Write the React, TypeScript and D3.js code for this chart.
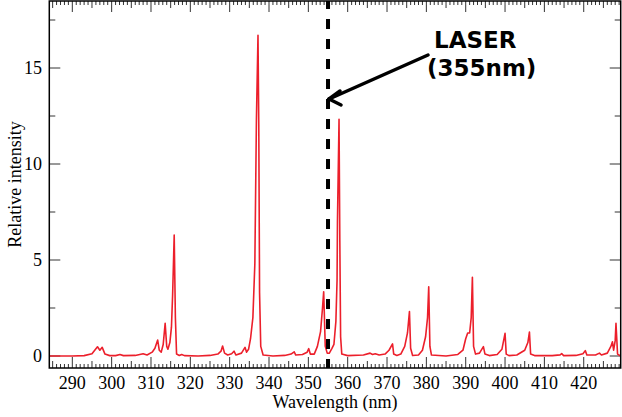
import * as React from 'react';
import * as d3 from 'd3';

// spectrum: wavelength (nm) and relative intensity
const wavelength = [
  284.2, 290, 293, 295, 296.4, 297.0, 297.6, 298.3, 299.5, 301, 302.1, 303, 306, 308.0, 309,
  310.3, 311, 311.7, 312.1, 312.6, 313.1, 313.6, 314.0, 314.3, 314.8, 315.2, 315.5, 315.9, 316.2,
  316.5, 317.2, 317.8, 318.5, 322, 325, 327, 327.8, 328.2, 328.7, 329.5, 330.5, 331.1, 331.6, 333,
  333.9, 334.3, 334.8, 335.3, 335.9, 336.4, 336.8, 337.2, 337.4, 337.6, 337.9, 338.5, 341, 344,
  345.6, 346.4, 346.8, 348.5, 349.7, 350.1, 350.5, 351.5, 352.3, 353.1, 353.6, 353.9, 354.3, 354.8,
  355.3, 356.0, 356.5, 357.0, 357.3, 357.4, 357.8, 358.0, 358.2, 358.5, 360, 364, 365.7, 366.3,
  367, 368, 369.5, 370.5, 371.4, 371.7, 372.5, 373.5, 374.5, 375.2, 375.7, 376.0, 376.5, 378, 379,
  379.8, 380.3, 380.6, 380.9, 381.3, 385, 388, 389.3, 390.0, 390.5, 391.0, 391.4, 391.7, 392.0,
  392.5, 393.5, 394.5, 394.9, 396, 398, 399.2, 400.0, 400.3, 401, 403, 405, 405.8, 406.2, 406.5,
  407.5, 412, 414.0, 414.4, 414.9, 418, 419.8, 420.4, 420.8, 423, 424, 424.5, 426, 426.9, 427.3,
  427.6, 428.0, 428.2, 428.6, 429.4,
];
const intensity = [
  0.0, 0.0, 0.02, 0.12, 0.48, 0.3, 0.45, 0.1, 0.02, 0.02, 0.08, 0.02, 0.03, 0.12, 0.05,
  0.2, 0.4, 0.83, 0.3, 0.2, 0.6, 1.7, 0.5, 0.35, 0.7, 1.5, 3.2, 6.3, 2.0,
  0.1, 0.03, 0.08, 0.02, 0.0, 0.03, 0.1, 0.25, 0.52, 0.15, 0.05, 0.12, 0.25, 0.05, 0.15,
  0.45, 0.2, 0.35, 0.9, 2.0, 4.8, 12.3, 16.7, 12.0, 3.3, 0.5, 0.05, 0.0, 0.03,
  0.1, 0.22, 0.05, 0.08, 0.2, 0.38, 0.1, 0.1, 0.5, 1.27, 2.5, 3.35, 0.5, 0.15,
  0.14, 0.4, 0.6, 1.8, 3.96, 7.0, 12.33, 6.0, 1.0, 0.1, 0.02, 0.05, 0.15, 0.08,
  0.12, 0.05, 0.1, 0.3, 0.63, 0.1, 0.03, 0.1, 0.5, 1.2, 2.31, 0.4, 0.03, 0.05, 0.3,
  1.0, 2.0, 3.61, 0.5, 0.05, 0.0, 0.08, 0.3, 0.9, 1.2, 1.2, 2.0, 4.1, 0.5,
  0.1, 0.15, 0.49, 0.1, 0.02, 0.08, 0.35, 1.18, 0.1, 0.02, 0.05, 0.3, 0.7, 1.25, 0.1,
  0.02, 0.02, 0.06, 0.12, 0.02, 0.03, 0.12, 0.28, 0.05, 0.05, 0.15, 0.05, 0.15, 0.5, 0.74,
  0.3, 0.8, 1.7, 0.1, 0.0,
];

const xTickLabels = [290, 300, 310, 320, 330, 340, 350, 360, 370, 380, 390, 400, 410, 420];
const yTickLabels = [0, 5, 10, 15];
const yMinorTicks = [2.5, 7.5, 12.5, 17.5];
const laserLine = 355;

const width = 622;
const height = 417;
const left = 49.3;
const right = 620.7;
const top = 1;
const bottom = 368;

const App = () => {
  const x = d3.scaleLinear().domain([284.15, 429.4]).range([left, right]);
  const y = d3.scaleLinear().domain([-0.625, 18.49]).range([bottom, top]);

  const points = wavelength.map((w, i) => [w, intensity[i]] as [number, number]);
  const line = d3
    .line<[number, number]>()
    .x((d) => x(d[0]))
    .y((d) => y(d[1]));

  const xMinor = d3.range(285, 430, 1);
  const serif = '"Liberation Serif", "Times New Roman", serif';
  const lx = x(laserLine);

  return (
    <svg
      width={width}
      height={height}
      style={{ position: 'absolute', left: 0, top: 0, background: '#fff' }}>
      <defs>
        <clipPath id='plot'>
          <rect x={left} y={top} width={right - left} height={bottom - top} />
        </clipPath>
      </defs>

      {/* x ticks, bottom (up) and top (down) */}
      {xMinor.map((t) => {
        const len = t % 10 === 0 ? 11 : t % 5 === 0 ? 7 : 4;
        return (
          <g key={t} stroke='#333' strokeWidth={1}>
            <line x1={x(t)} x2={x(t)} y1={bottom} y2={bottom - len} />
            <line x1={x(t)} x2={x(t)} y1={top} y2={top + len} />
          </g>
        );
      })}

      {/* y ticks, left and right */}
      {yTickLabels.map((t) => (
        <g key={t} stroke='#777' strokeWidth={1.5}>
          <line x1={left} x2={left + 11} y1={y(t)} y2={y(t)} />
          <line x1={right} x2={right - 11} y1={y(t)} y2={y(t)} />
        </g>
      ))}
      {yMinorTicks.map((t) => (
        <g key={t} stroke='#777' strokeWidth={1.5}>
          <line x1={left} x2={left + 6} y1={y(t)} y2={y(t)} />
          <line x1={right} x2={right - 6} y1={y(t)} y2={y(t)} />
        </g>
      ))}

      <path
        d={line(points) ?? ''}
        fill='none'
        stroke='#ec1f2b'
        strokeWidth={1.6}
        strokeLinejoin='round'
        clipPath='url(#plot)'
      />

      <rect
        x={left}
        y={top}
        width={right - left}
        height={bottom - top}
        fill='none'
        stroke='#000'
        strokeWidth={1.5}
      />

      {xTickLabels.map((t) => (
        <text key={t} x={x(t)} y={389} textAnchor='middle' fontFamily={serif} fontSize={18}>
          {t}
        </text>
      ))}
      {yTickLabels.map((t) => (
        <text
          key={t}
          x={42}
          y={y(t)}
          textAnchor='end'
          dominantBaseline='central'
          fontFamily={serif}
          fontSize={18}>
          {t}
        </text>
      ))}

      <text
        x={(left + right) / 2}
        y={408}
        textAnchor='middle'
        fontFamily={serif}
        fontSize={18}>
        Wavelength (nm)
      </text>
      <text
        transform={`translate(21 ${(top + bottom) / 2}) rotate(-90)`}
        textAnchor='middle'
        fontFamily={serif}
        fontSize={18}>
        Relative intensity
      </text>

      {/* laser marker */}
      <line
        x1={lx}
        x2={lx}
        y1={top}
        y2={bottom}
        stroke='#000'
        strokeWidth={4}
        strokeDasharray='10,10'
        strokeDashoffset={2}
      />
      <g stroke='#000' strokeWidth={3.5} strokeLinecap='round'>
        <line x1={428} y1={55} x2={lx + 1} y2={99} />
        <line x1={lx + 1} y1={99} x2={lx + 12} y2={91} />
        <line x1={lx + 1} y1={99} x2={lx + 13} y2={105} />
      </g>
      <text x={434} y={48} fontFamily='"DejaVu Sans", sans-serif' fontWeight='bold' fontSize={23}>
        LASER
      </text>
      <text x={427} y={76} fontFamily='"DejaVu Sans", sans-serif' fontWeight='bold' fontSize={23}>
        (355nm)
      </text>
    </svg>
  );
};

export default App;
